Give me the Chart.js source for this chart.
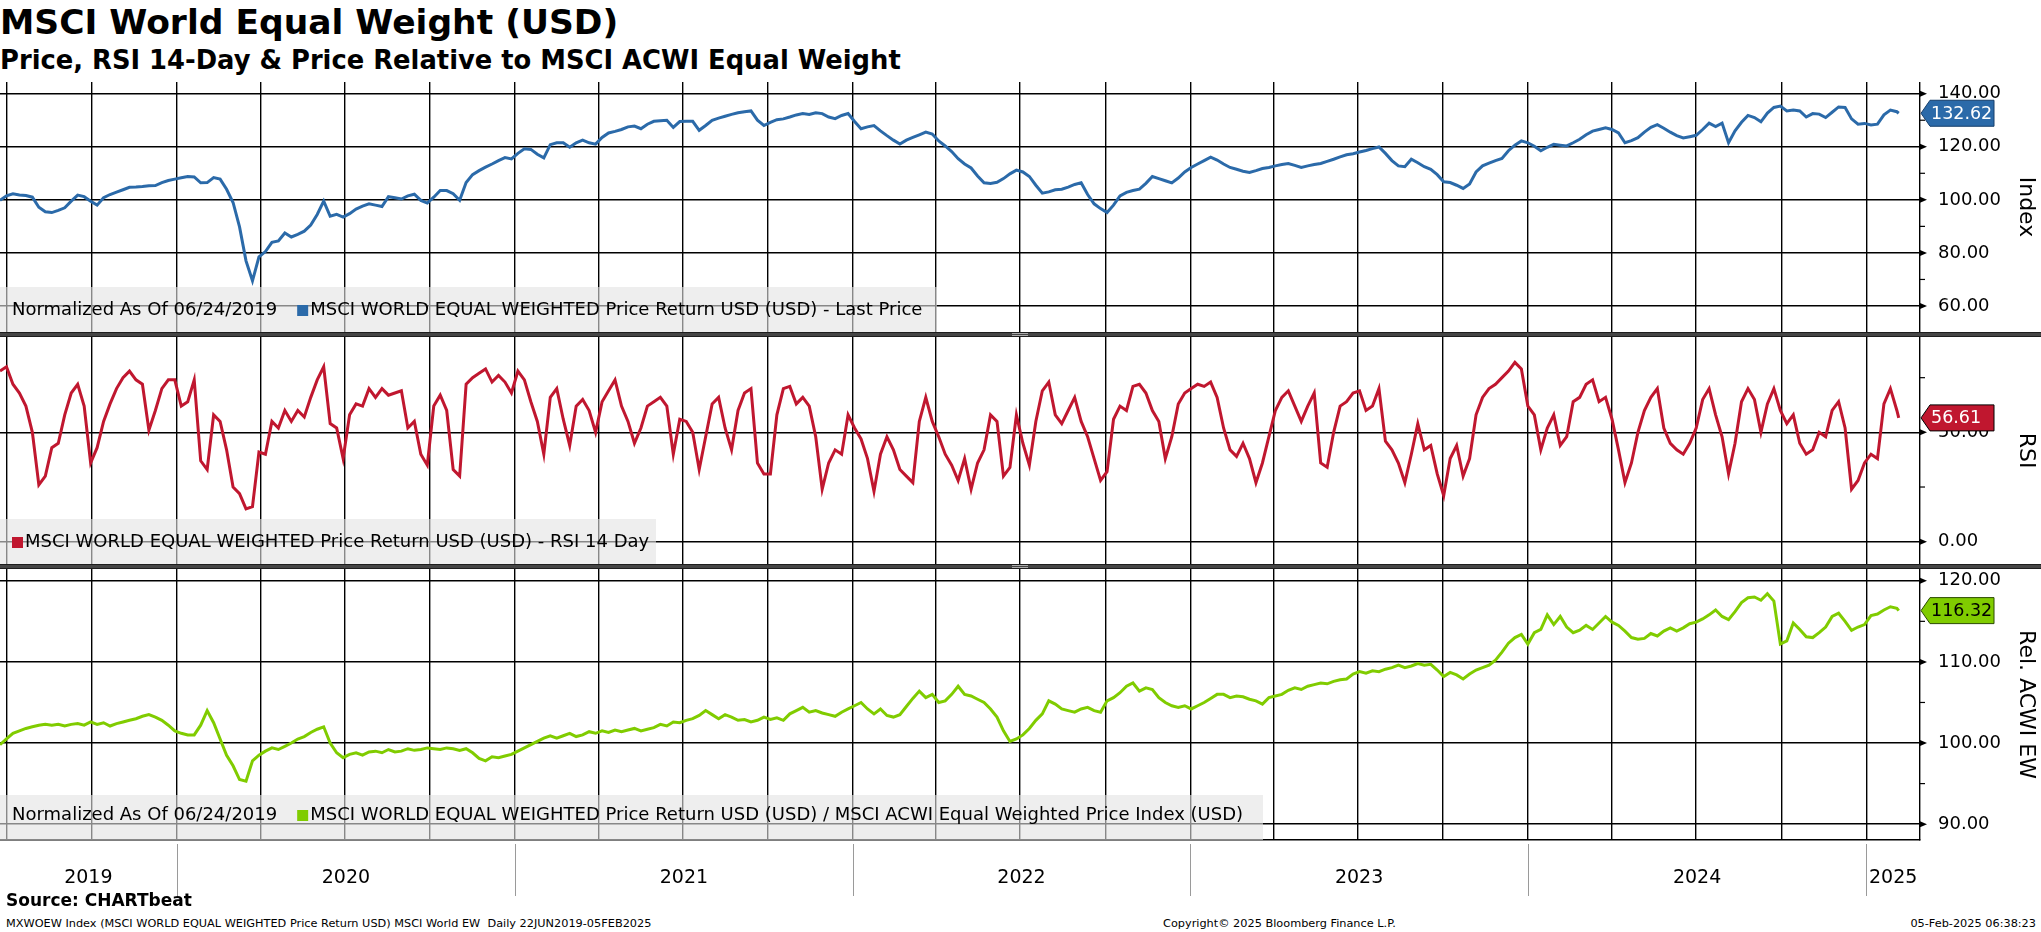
<!DOCTYPE html>
<html>
<head>
<meta charset="utf-8">
<script src="https://cdn.jsdelivr.net/npm/chart.js@4.4.1/dist/chart.umd.min.js"></script>
<style>
  body { margin:0; width:2041px; height:932px; background:#fff; position:relative; overflow:hidden; font-family:"DejaVu Sans", sans-serif; color:#000; }
  .txt { position:absolute; white-space:nowrap; }
  #title { left:0; top:2px; font-weight:bold; font-size:34.5px; }
  #subtitle { left:0; top:45px; font-weight:bold; font-size:25.8px; }
  canvas { position:absolute; left:0; }
  .sep { position:absolute; left:0; width:2041px; height:5px; background:#454545; border-top:1px solid #1e1e1e; border-bottom:1px solid #1e1e1e; box-sizing:border-box; }
  .grip { position:absolute; left:1012px; width:16px; height:1px; background:#aaa; }
  #source { left:6px; top:890px; font-weight:bold; font-size:17px; }
  .foot { top:917px; font-size:11.3px; }
</style>
</head>
<body>
<div id="title" class="txt">MSCI World Equal Weight (USD)</div>
<div id="subtitle" class="txt">Price, RSI 14-Day &amp; Price Relative to MSCI ACWI Equal Weight</div>

<canvas id="pricePanel" width="2041" height="250" style="top:82px"></canvas>
<div class="sep" style="top:332px"></div>
<div class="grip" style="top:333px"></div><div class="grip" style="top:335px"></div>
<canvas id="rsiPanel" width="2041" height="227" style="top:337px"></canvas>
<div class="sep" style="top:564px"></div>
<div class="grip" style="top:565px"></div><div class="grip" style="top:567px"></div>
<canvas id="relPanel" width="2041" height="329" style="top:569px"></canvas>

<div id="source" class="txt">Source: CHARTbeat</div>
<div class="txt foot" style="left:6px">MXWOEW Index (MSCI WORLD EQUAL WEIGHTED Price Return USD) MSCI World EW&nbsp; Daily 22JUN2019-05FEB2025</div>
<div class="txt foot" style="left:1163px">Copyright© 2025 Bloomberg Finance L.P.</div>
<div class="txt foot" style="right:5px">05-Feb-2025 06:38:23</div>

<script>
// weekly closes from 24 Jun 2019, last point is 05 Feb 2025
const startDate = "2019-06-24";
const endDate = "2025-02-05";
const axisEndDate = "2025-02-28";
const yearLabels = ["2019", "2020", "2021", "2022", "2023", "2024", "2025"];

const priceValues = [
  99.8, 101.5, 102.3, 101.8, 101.6, 101, 97.2, 95.5, 95.2, 96,
  97, 99.5, 101.8, 101.2, 99.5, 98, 100.8, 102, 102.9, 103.8,
  104.7, 104.8, 105, 105.3, 105.4, 106.5, 107.3, 107.8, 108.3, 108.8,
  108.6, 106.4, 106.5, 108.4, 107.8, 104, 99, 89.8, 77, 69.5,
  78.5, 80.5, 84, 84.5, 87.5, 86, 87, 88.2, 90.5, 94.5,
  99.5, 93.8, 94.5, 93.5, 94.8, 96.5, 97.6, 98.5, 98, 97.5,
  101.2, 100.8, 100.3, 101.5, 102.1, 99.8, 98.8, 101, 103.5, 103.5,
  102.3, 99.8, 106.5, 109.5, 111, 112.3, 113.5, 114.8, 115.9, 115.4,
  117.5, 119.2, 119, 117.2, 115.8, 120.8, 121.5, 121.5, 119.8, 121.5,
  122.5, 121.5, 121, 123.5, 125.2, 125.8, 126.5, 127.5, 127.8, 126.8,
  128.5, 129.6, 129.8, 130, 127.3, 129.5, 129.6, 129.6, 126.2, 128,
  130, 130.8, 131.5, 132.2, 132.8, 133.2, 133.5, 130, 128, 129.2,
  130.2, 130.5, 131.2, 132, 132.5, 132.2, 132.8, 132.5, 131.2, 130.6,
  131.8, 132.5, 129.5, 126.8, 127.5, 128, 126, 124.2, 122.5, 121,
  122.5, 123.5, 124.5, 125.5, 124.8, 122.2, 120.3, 118.2, 115.5, 113.5,
  112, 109, 106.4, 106.2, 106.6, 108, 109.8, 111.2, 110.5, 108.8,
  105.5, 102.5, 103, 103.8, 104, 104.8, 105.8, 106.4, 102, 98.5,
  96.7, 95.2, 98, 101.5, 102.8, 103.5, 104, 106.2, 108.8, 108,
  107.2, 106.4, 108.2, 110.5, 112.2, 113.5, 114.8, 116.1, 115, 113.5,
  112.2, 111.5, 110.8, 110.3, 111, 111.8, 112.2, 112.8, 113.3, 113.7,
  113, 112.2, 112.8, 113.3, 113.7, 114.5, 115.3, 116.2, 117, 117.4,
  118, 118.6, 119.3, 119.9, 117.5, 114.8, 112.8, 112.5, 115.3, 114,
  112.5, 111.5, 109.5, 106.8, 106.5, 105.5, 104.3, 106, 110.5, 112.8,
  113.8, 114.8, 115.6, 118.5, 120.6, 122.2, 121.5, 120.2, 118.5, 119.8,
  120.9, 120.6, 120.3, 121.5, 122.8, 124.5, 125.9, 126.5, 127.1, 126.5,
  125.2, 121.5, 122.3, 123.4, 125.5, 127.3, 128.3, 127, 125.5, 124.2,
  123.3, 123.8, 124.3, 126.5, 128.9, 127.6, 128.9, 121.5, 126, 129.2,
  131.8, 131, 129.4, 132.7, 134.8, 135.3, 133.5, 133.8, 133.5, 131.2,
  132.5, 132.3, 131, 133, 135, 134.8, 130.5, 128.5, 128.8, 128.2,
  128.5, 132, 133.8, 133.2, 132.62
];

const rsiValues = [
  78, 80, 72, 68, 62, 50, 26, 30, 43, 45,
  58, 68, 72, 62, 36, 43, 55, 63, 70, 75,
  78, 74, 72, 51, 60, 70, 74, 74, 62, 64,
  74, 37, 33, 58, 55, 42, 25, 22, 15, 16,
  41, 40, 55, 52, 60, 55, 60, 57, 66, 74,
  80, 54, 52, 38, 58, 63, 62, 70, 66, 70,
  67, 68, 69, 52, 55, 40, 35, 62, 67, 60,
  33, 30, 72, 75, 77, 79, 73, 76, 73, 68,
  78, 74, 64, 55, 40, 66, 70, 56, 44, 62,
  65, 60, 50, 64, 69, 74, 62, 55, 45, 52,
  62, 64, 66, 62, 40, 56, 55, 50, 33, 48,
  63, 66, 52, 42, 60, 68, 70, 36, 31, 31,
  58, 70, 71, 63, 66, 62, 48, 24, 36, 42,
  40, 58, 52, 47, 38, 23, 40, 48, 42, 33,
  30, 27, 55, 66, 55, 48, 40, 35, 28, 38,
  24, 36, 42, 58, 55, 30, 34, 58, 45, 35,
  55, 69, 73, 58, 54, 60, 66, 55, 48, 38,
  28, 32, 56, 62, 60, 71, 72, 68, 60, 55,
  38, 48, 63, 68, 70, 72, 71, 73, 66, 52,
  42, 39, 45, 38, 27, 36, 48, 60, 66, 69,
  62, 55, 62, 68, 36, 34, 50, 62, 64, 68,
  69, 60, 62, 70, 46, 42, 36, 27, 40, 54,
  42, 44, 31, 21, 38, 44, 30, 38, 58, 66,
  70, 72, 75, 78, 82, 79, 62, 58, 42, 52,
  58, 44, 48, 64, 66, 72, 74, 64, 66, 56,
  42, 27, 36, 50, 60, 66, 70, 52, 45, 42,
  40, 45, 52, 65, 70, 58, 48, 31, 45, 64,
  70, 65, 50, 63, 70, 60, 54, 58, 45, 40,
  42, 50, 48, 60, 64, 52, 24, 28, 36, 40,
  38, 63, 70, 60, 56.61
];

const relValues = [
  99.8, 100.5, 101.2, 101.5, 101.8, 102, 102.2, 102.3, 102.2, 102.3,
  102.1, 102.3, 102.4, 102.2, 102.6, 102.3, 102.5, 102.1, 102.4, 102.6,
  102.8, 103, 103.3, 103.5, 103.2, 102.8, 102.2, 101.5, 101.2, 101,
  101, 102.2, 104, 102.5, 100.5, 98.5, 97.2, 95.5, 95.3, 97.8,
  98.5, 99, 99.4, 99.2, 99.6, 100, 100.5, 100.8, 101.3, 101.7,
  102, 100, 98.8, 98.2, 98.6, 98.8, 98.5, 98.9, 99, 98.8,
  99.2, 98.9, 99, 99.3, 99.1, 99.2, 99.4, 99.3, 99.2, 99.4,
  99.3, 99.1, 99.3, 98.8, 98.1, 97.8, 98.3, 98.2, 98.4, 98.6,
  99, 99.4, 99.8, 100.2, 100.6, 100.9, 100.6, 100.9, 101.2, 100.8,
  101, 101.4, 101.2, 101.5, 101.3, 101.6, 101.4, 101.6, 101.8, 101.5,
  101.7, 101.9, 102.3, 102.1, 102.6, 102.5, 102.8, 103, 103.4, 104,
  103.5, 103, 103.5, 103.2, 102.8, 102.9, 102.6, 102.8, 103.2, 102.9,
  103.1, 102.8, 103.6, 104, 104.4, 103.8, 104, 103.7, 103.5, 103.3,
  103.8, 104.2, 104.6, 105, 104.2, 103.6, 104.2, 103.4, 103.2, 103.5,
  104.5, 105.5, 106.4, 105.6, 106, 105, 105.2, 106, 107, 106,
  105.8, 105.4, 105, 104.2, 103.2, 101.5, 100.2, 100.5, 101, 101.8,
  102.8, 103.6, 105.2, 104.8, 104.2, 104, 103.8, 104.2, 104.4, 104,
  103.8, 105.2, 105.6, 106.2, 107, 107.4, 106.4, 106.8, 106.6, 105.6,
  105, 104.6, 104.4, 104.6, 104.2, 104.6, 105, 105.5, 106, 106,
  105.6, 105.8, 105.7, 105.4, 105.2, 104.8, 105.6, 105.8, 106, 106.5,
  106.8, 106.6, 107, 107.2, 107.4, 107.3, 107.6, 107.8, 107.9, 108.5,
  108.8, 108.6, 108.9, 108.8, 109.1, 109.3, 109.6, 109.3, 109.5, 109.8,
  109.6, 109.7, 109, 108.2, 108.7, 108.4, 107.9, 108.5, 109, 109.3,
  109.6, 110.2, 111.2, 112.3, 113, 113.4, 112.2, 113.6, 114, 115.8,
  114.6, 115.6, 114.3, 113.6, 113.9, 114.5, 114, 114.8, 115.6, 114.9,
  114.5, 113.8, 113, 112.8, 112.9, 113.5, 113.2, 113.8, 114.2, 113.8,
  114.2, 114.7, 114.9, 115.3, 115.8, 116.4, 115.6, 115.2, 116.2, 117.3,
  117.9, 118, 117.6, 118.4, 117.5, 112.2, 112.6, 114.8, 114, 113.1,
  113, 113.6, 114.3, 115.6, 116, 115, 113.9, 114.3, 114.6, 115.7,
  115.9, 116.4, 116.8, 116.6, 116.32
];

const DAY = 86400000;
const dayOf = s => (Date.parse(s) - Date.parse(startDate)) / DAY;
const lastDay = dayOf(endDate);
const xMaxDay = dayOf(axisEndDate);

// weekly dates, the final point sits on the last trading day
const toPoints = vals => vals.map((v, i) => ({ x: i < vals.length - 1 ? i * 7 : lastDay, y: v }));

const quarterDays = [];
for (let yr = 2019; yr <= 2025; yr++) {
  for (const m of ["01", "04", "07", "10"]) {
    const d = dayOf(`${yr}-${m}-01`);
    if (d > 0 && d < xMaxDay) quarterDays.push(d);
  }
}
const yearStartDays = yearLabels.slice(1).map(y => dayOf(`${y}-01-01`));
const yearMidDays = yearLabels.map(y => {
  const a = Math.max(0, dayOf(`${y}-01-01`));
  const b = Math.min(xMaxDay, dayOf(`${+y + 1}-01-01`));
  return (a + b) / 2;
});

const FONT = '"DejaVu Sans", sans-serif';
const LEGEND_FONT = '18px ' + FONT;
const TAG_FONT = '17.5px ' + FONT;

// no auto padding for half tick labels, the panels must fill their canvases
const noPad = s => { s.paddingTop = 0; s.paddingBottom = 0; s.paddingLeft = 0; s.paddingRight = 0; };

const panelDecor = {
  id: "panelDecor",
  afterDatasetsDraw(chart, args, o) {
    const ctx = chart.ctx, a = chart.chartArea;
    ctx.save();
    ctx.fillStyle = "rgba(226,226,226,0.6)";
    ctx.fillRect(0, o.boxTop, o.boxWidth, a.bottom - o.boxTop);
    ctx.font = LEGEND_FONT;
    ctx.textBaseline = "middle";
    ctx.fillStyle = "#000";
    let x = 12;
    if (o.prefix) {
      ctx.fillText(o.prefix, x, o.textY);
      x += ctx.measureText(o.prefix).width + 20;
    }
    ctx.fillStyle = o.color;
    ctx.fillRect(x, o.textY - 5, 11, 11);
    x += 13;
    ctx.fillStyle = "#000";
    ctx.fillText(o.label, x, o.textY);
    ctx.restore();
  },
  afterDraw(chart, args, o) {
    const ctx = chart.ctx, a = chart.chartArea, ys = chart.scales.y;
    ctx.save();
    ctx.fillStyle = "#000";
    ctx.strokeStyle = "#000";
    ctx.lineWidth = 1.2;
    o.majors.forEach(v => {
      const py = ys.getPixelForValue(v);
      ctx.beginPath();
      ctx.moveTo(a.right, py - 3);
      ctx.lineTo(a.right + 7, py);
      ctx.lineTo(a.right, py + 3);
      ctx.closePath();
      ctx.fill();
    });
    o.minors.forEach(v => {
      const py = ys.getPixelForValue(v);
      ctx.beginPath();
      ctx.moveTo(a.right, py);
      ctx.lineTo(a.right + 5, py);
      ctx.stroke();
    });
    if (o.yearSeps) {
      ctx.strokeStyle = "#9a9a9a";
      ctx.lineWidth = 1;
      o.yearSeps.forEach(d => {
        const px = Math.round(chart.scales.x.getPixelForValue(d)) + 0.5;
        ctx.beginPath();
        ctx.moveTo(px, a.bottom + 4);
        ctx.lineTo(px, a.bottom + 56);
        ctx.stroke();
      });
    }
    // last value tag
    const py = ys.getPixelForValue(o.last);
    ctx.beginPath();
    ctx.moveTo(a.right + 1, py);
    ctx.lineTo(a.right + 10, py - 13);
    ctx.lineTo(a.right + 74, py - 13);
    ctx.lineTo(a.right + 74, py + 13);
    ctx.lineTo(a.right + 10, py + 13);
    ctx.closePath();
    ctx.fillStyle = o.color;
    ctx.fill();
    ctx.strokeStyle = o.tagEdge;
    ctx.lineWidth = 1;
    ctx.stroke();
    ctx.fillStyle = o.tagText;
    ctx.font = TAG_FONT;
    ctx.textBaseline = "middle";
    ctx.fillText(o.last.toFixed(2), a.right + 11, py + 1);
    ctx.restore();
  }
};

function makePanel(id, p) {
  const scales = {
    x: {
      type: "linear", min: 0, max: xMaxDay,
      afterBuildTicks: s => { s.ticks = quarterDays.map(v => ({ value: v })); },
      afterFit: s => { s.height = 0; noPad(s); },
      ticks: { display: false },
      grid: { color: "#000", lineWidth: 1.4, drawTicks: false },
      border: { display: !!p.bottomAxis, color: "#000", width: 1.4 }
    },
    y: {
      position: "right", min: p.min, max: p.max,
      afterBuildTicks: s => { s.ticks = p.majors.map(v => ({ value: v })); },
      afterFit: s => { s.width = 121; noPad(s); },
      ticks: { padding: 18, color: "#000", font: { family: FONT, size: 18 }, callback: v => v.toFixed(2) },
      grid: { color: "#000", lineWidth: 1.4, drawTicks: false },
      border: { display: true, color: "#000", width: 1.4 },
      title: { display: true, text: p.title, color: "#000", font: { family: FONT, size: 22 }, padding: { top: 2, bottom: 0 } }
    }
  };
  if (p.bottomAxis) {
    scales.xYears = {
      type: "linear", position: "bottom", weight: 2, min: 0, max: xMaxDay,
      afterBuildTicks: s => { s.ticks = yearMidDays.map(v => ({ value: v })); },
      afterFit: s => { s.height = 58; noPad(s); },
      grid: { display: false, drawTicks: false },
      border: { display: false },
      ticks: { autoSkip: false, maxRotation: 0, padding: 27, color: "#000", font: { family: FONT, size: 19 }, callback: (v, i) => yearLabels[i] }
    };
  }
  return new Chart(document.getElementById(id), {
    type: "line",
    data: {
      datasets: [{
        data: toPoints(p.values),
        borderColor: p.color,
        borderWidth: 3,
        pointRadius: 0,
        tension: 0
      }]
    },
    options: {
      responsive: false,
      animation: false,
      events: [],
      layout: { padding: 0 },
      plugins: {
        legend: { display: false },
        tooltip: { enabled: false },
        panelDecor: {
          majors: p.majors, minors: p.minors, last: p.values[p.values.length - 1],
          color: p.color, tagText: p.tagText, tagEdge: p.tagEdge,
          prefix: p.prefix, label: p.label, boxTop: p.boxTop, boxWidth: p.boxWidth, textY: p.textY,
          yearSeps: p.bottomAxis ? yearStartDays : null
        }
      },
      scales
    },
    plugins: [panelDecor]
  });
}

makePanel("pricePanel", {
  values: priceValues, color: "#2b6aa9", tagText: "#fff", tagEdge: "#163f6b",
  min: 50.2, max: 144.4, majors: [60, 80, 100, 120, 140], minors: [70, 90, 110, 130],
  title: "Index",
  prefix: "Normalized As Of 06/24/2019",
  label: "MSCI WORLD EQUAL WEIGHTED Price Return USD (USD) - Last Price",
  boxTop: 205, boxWidth: 937, textY: 228
});

makePanel("rsiPanel", {
  values: rsiValues, color: "#c0172f", tagText: "#fff", tagEdge: "#000",
  min: -10.2, max: 93.6, majors: [0, 50], minors: [25, 75],
  title: "RSI",
  prefix: "",
  label: "MSCI WORLD EQUAL WEIGHTED Price Return USD (USD) - RSI 14 Day",
  boxTop: 182, boxWidth: 656, textY: 205
});

makePanel("relPanel", {
  values: relValues, color: "#80cc00", tagText: "#000", tagEdge: "#2a4a00",
  min: 88.05, max: 121.45, majors: [90, 100, 110, 120], minors: [95, 105, 115],
  title: "Rel. ACWI EW",
  prefix: "Normalized As Of 06/24/2019",
  label: "MSCI WORLD EQUAL WEIGHTED Price Return USD (USD) / MSCI ACWI Equal Weighted Price Index (USD)",
  boxTop: 226, boxWidth: 1263, textY: 246,
  bottomAxis: true
});
</script>
</body>
</html>
